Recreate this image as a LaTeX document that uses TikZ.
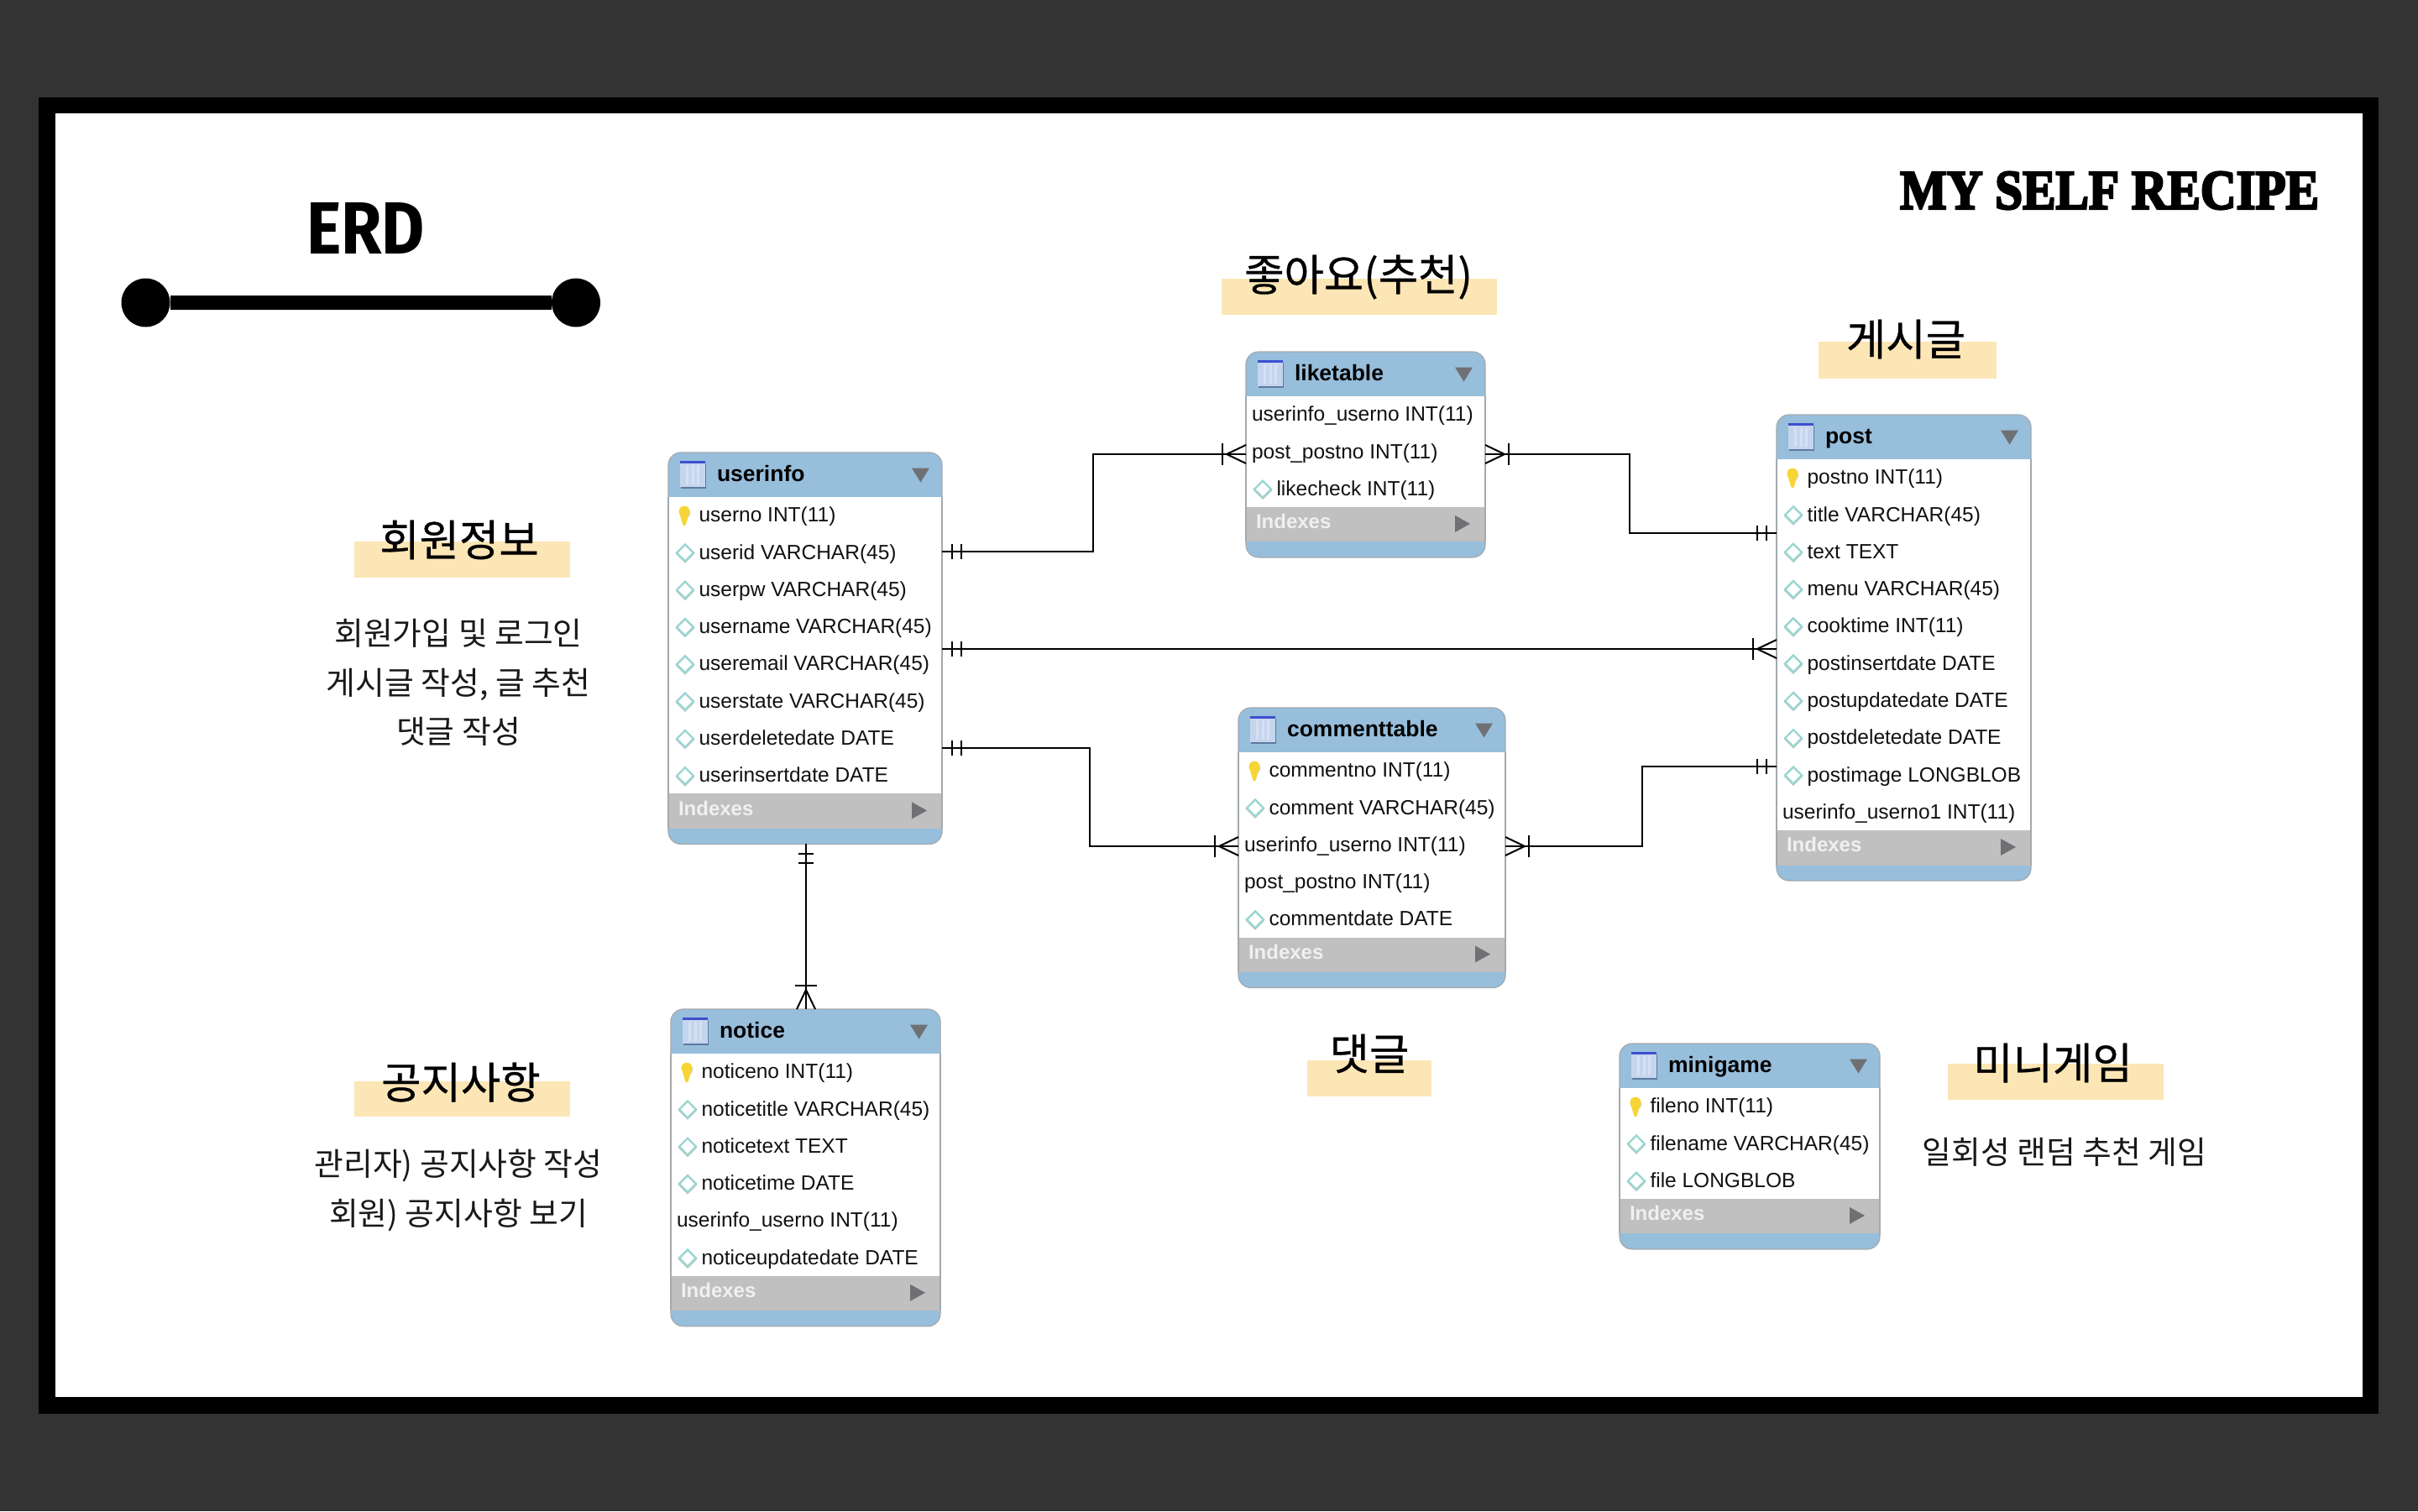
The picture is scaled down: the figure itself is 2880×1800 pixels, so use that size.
\documentclass[tikz,border=0pt]{standalone}
\usepackage{fontspec}
\usepackage{graphicx}
\setmainfont{Liberation Sans}
\newfontfamily\kr{Noto Sans CJK KR}
\newfontfamily\krh[FakeBold=0.6]{Noto Sans CJK KR}
\newfontfamily\erdfont{Fira Sans}
\newfontfamily\stencilfont[FakeBold=4]{Liberation Serif}
\definecolor{slate}{HTML}{333333}
\definecolor{hdrblue}{HTML}{97BEDB}
\definecolor{idxgray}{HTML}{C0C0C0}
\definecolor{edgegray}{HTML}{A3A9AE}
\definecolor{tri}{HTML}{6F7073}
\definecolor{hl}{HTML}{FCE6B5}
\definecolor{keyy}{HTML}{F6D535}
\definecolor{dia}{HTML}{9AD6D0}
\definecolor{rowtext}{HTML}{111111}
\definecolor{iconbody}{HTML}{C6D5EE}
\definecolor{iconstripe}{HTML}{D6E0F3}
\definecolor{iconbar}{HTML}{3D4FD0}
\definecolor{iconshade}{HTML}{5E7A9E}
\tikzset{
  every node/.style={inner sep=0pt,outer sep=0pt},
  tbl/.style={draw=edgegray,line width=1.2pt,fill=hdrblue,rounded corners=15pt,rectangle},
  rowt/.style={anchor=west,font=\fontsize{24.5}{28}\selectfont,text=rowtext},
  titlet/.style={anchor=west,font=\fontsize{26.5}{30}\bfseries\selectfont,text=black},
  idxt/.style={anchor=west,font=\fontsize{24}{28}\bfseries\selectfont,text=white!94!black},
  conn/.style={line width=2pt,draw=black},
  hlbar/.style={fill=hl,rectangle},
  headt/.style={font=\krh\fontsize{51.5}{56}\selectfont,text=black},
  bodyt/.style={font=\kr\fontsize{37.8}{44}\selectfont,text=black!90},
  enddot/.style={circle,fill=black,minimum size=58pt},
  erone/.pic={
    \draw[conn] (12pt,-9pt) -- (12pt,9pt);
    \draw[conn] (23pt,-9pt) -- (23pt,9pt);
  },
  ermany/.pic={
    \draw[conn] (28pt,-13pt) -- (28pt,13pt);
    \draw[conn] (0pt,-11pt) -- (23pt,0pt) -- (0pt,11pt);
  },
  erkey/.pic={
    \fill[black!15] (1.5pt,3pt) circle (6pt);
    \fill[keyy] (0pt,5pt) circle (6.5pt);
    \fill[keyy] (-6pt,4pt) -- (-2pt,-10pt) arc (180:360:2pt) -- (6pt,4pt) -- cycle;
  },
  erdiamond/.pic={
    \fill[black!22] (11pt,-1.5pt) -- (0pt,9.5pt) -- (-11pt,-1.5pt) -- (0pt,-12.5pt) -- cycle;
    \draw[dia,fill=white,line width=2.4pt] (10pt,0pt) -- (0pt,10pt) -- (-10pt,0pt) -- (0pt,-10pt) -- cycle;
  },
  ericon/.pic={
    \fill[iconshade] (-14pt,-17pt) rectangle (16pt,13pt);
    \fill[iconbody] (-15pt,-15pt) rectangle (15pt,15pt);
    \fill[iconstripe] (-8pt,-12pt) rectangle (-5pt,11pt);
    \fill[iconstripe] (-1.5pt,-12pt) rectangle (1.5pt,11pt);
    \fill[iconstripe] (5pt,-12pt) rectangle (8pt,11pt);
    \fill[iconbar] (-15pt,13pt) rectangle (15pt,16.5pt);
  },
  trid/.pic={\fill[tri] (-10.5pt,8.5pt) -- (10.5pt,8.5pt) -- (0pt,-8.5pt) -- cycle;},
  trir/.pic={\fill[tri] (-9pt,10pt) -- (9pt,0pt) -- (-9pt,-10pt) -- cycle;},
}
% id, left, right, top, title, rows
\newcommand{\ertable}[6]{%
  \foreach \rr/\ss [count=\cc] in {#6}{\xdef\ncount{\cc}}%
  \pgfmathsetmacro{\rowsh}{\ncount*44.3}%
  \pgfmathsetmacro{\hgt}{53+\rowsh+59}%
  \pgfmathsetmacro{\wid}{#3-#2}%
  \pgfmathsetmacro{\xmid}{(#2+#3)/2}%
  \pgfmathsetmacro{\ymid}{#4+\hgt/2}%
  \pgfmathsetmacro{\rowtop}{#4+53}%
  \pgfmathsetmacro{\idxtop}{\rowtop+\rowsh-1}%
  \pgfmathsetmacro{\idxbot}{\idxtop+41.5}%
  \pgfmathsetmacro{\idxmid}{\idxtop+20}%
  \node[tbl,minimum width=\wid pt,minimum height=\hgt pt] (#1) at (\xmid,\ymid) {};
  \fill[white] (#2,\rowtop) rectangle (#3,\idxtop);
  \fill[idxgray] (#2,\idxtop) rectangle (#3,\idxbot);
  \draw[edgegray,line width=1.2pt] (#2,\rowtop) -- (#2,\idxbot) (#3,\rowtop) -- (#3,\idxbot);
  \pic at (#2+29,#4+26) {ericon};
  \pic at (#3-25.5,#4+27) {trid};
  \node[titlet] (#1-title) at (#2+58,#4+28) {\strut #5};
  \foreach \rr/\ss [count=\ii] in {#6}{
    \pgfmathsetmacro{\ry}{\rowtop+(\ii-0.5)*44.3}
    \pgfmathsetmacro{\ty}{\ry+2}
    \if k\rr
      \pic at (#2+19,\ry) {erkey};
      \node[rowt] (#1-r\ii) at (#2+36.5,\ty) {\strut \ss};
    \else\if d\rr
      \pic at (#2+20,\ry) {erdiamond};
      \node[rowt] (#1-r\ii) at (#2+36.5,\ty) {\strut \ss};
    \else
      \node[rowt] (#1-r\ii) at (#2+7,\ty) {\strut \ss};
    \fi\fi
  }
  \node[idxt] (#1-idx) at (#2+12,\idxmid) {\strut Indexes};
  \pic at (#3-27,\idxmid) {trir};
}
\begin{document}
\begin{tikzpicture}[x=1pt,y=-1pt]
\useasboundingbox (0,0) rectangle (2880,1800);
\fill[slate] (0,0) rectangle (2880,1800);
\fill[black] (46,116) rectangle (2833,1684);
\fill[white] (65.5,135) rectangle (2814,1664);

% Title block
\node[font=\erdfont\bfseries\fontsize{85}{90}\selectfont] (erd) at (435.5,271.5) {\resizebox{141pt}{61pt}{ERD}};
\node[enddot] (dotl) at (173.5,360.5) {};
\node[enddot] (dotr) at (686,360.5) {};
\draw[line width=17pt] (dotl) -- (dotr);
\node (brand) at (2512.5,227) {\resizebox{499pt}{44pt}{\stencilfont\bfseries MY SELF RECIPE}};

% Headings with highlight bars
\node[hlbar,minimum width=257pt,minimum height=43pt] (hlA) at (550,666.5) {};
\node[headt] (headA) at (547,643) {회원정보};
\node[hlbar,minimum width=257pt,minimum height=42pt] (hlB) at (550,1309) {};
\node[headt] (headB) at (549,1289) {공지사항};
\node[hlbar,minimum width=328pt,minimum height=43pt] (hlC) at (1619,353.5) {};
\node[headt] (headC) at (1618,330) {좋아요(추천)};
\node[hlbar,minimum width=212pt,minimum height=44pt] (hlD) at (2272,429) {};
\node[headt] (headD) at (2270,404) {게시글};
\node[hlbar,minimum width=148pt,minimum height=43pt] (hlE) at (1631,1284.5) {};
\node[headt] (headE) at (1631,1255) {댓글};
\node[hlbar,minimum width=257pt,minimum height=43pt] (hlF) at (2448.5,1288.5) {};
\node[headt] (headF) at (2445,1266) {미니게임};

% Descriptions
\node[bodyt] (d1) at (546,754) {회원가입 및 로그인};
\node[bodyt] (d2) at (546,815) {게시글 작성, 글 추천};
\node[bodyt] (d3) at (546,871) {댓글 작성};
\node[bodyt] (d4) at (546,1388) {관리자) 공지사항 작성};
\node[bodyt] (d5) at (546,1447) {회원) 공지사항 보기};
\node[bodyt] (d6) at (2459,1372) {일회성 랜덤 추천 게임};

% Tables
\ertable{userinfo}{796}{1122}{539}{userinfo}{k/userno INT(11),d/userid VARCHAR(45),d/userpw VARCHAR(45),d/username VARCHAR(45),d/useremail VARCHAR(45),d/userstate VARCHAR(45),d/userdeletedate DATE,d/userinsertdate DATE}
\ertable{liketable}{1484}{1769}{419}{liketable}{n/userinfo\_userno INT(11),n/post\_postno INT(11),d/likecheck INT(11)}
\ertable{post}{2116}{2419}{494}{post}{k/postno INT(11),d/title VARCHAR(45),d/text TEXT,d/menu VARCHAR(45),d/cooktime INT(11),d/postinsertdate DATE,d/postupdatedate DATE,d/postdeletedate DATE,d/postimage LONGBLOB,n/userinfo\_userno1 INT(11)}
\ertable{commenttable}{1475}{1793}{843}{commenttable}{k/commentno INT(11),d/comment VARCHAR(45),n/userinfo\_userno INT(11),n/post\_postno INT(11),d/commentdate DATE}
\ertable{notice}{799}{1120}{1202}{notice}{k/noticeno INT(11),d/noticetitle VARCHAR(45),d/noticetext TEXT,d/noticetime DATE,n/userinfo\_userno INT(11),d/noticeupdatedate DATE}
\ertable{minigame}{1929}{2239}{1243}{minigame}{k/fileno INT(11),d/filename VARCHAR(45),d/file LONGBLOB}

% Connector routing points
\coordinate (ua) at (1302,657);
\coordinate (ub) at (1302,541);
\coordinate (lb) at (1941,541);
\coordinate (lc) at (1941,635);
\coordinate (pm) at (1500,773);
\coordinate (ca) at (1298,891);
\coordinate (cb) at (1298,1008);
\coordinate (da) at (1956,1008);
\coordinate (db) at (1956,913);
\coordinate (na) at (960,1100);

% Connectors
\draw[conn] (userinfo.east |- ua) -- (ua) -- (ub) -- (liketable.west |- ub);
\pic at (userinfo.east |- ua) {erone};
\pic[rotate=180] at (liketable.west |- ub) {ermany};

\draw[conn] (liketable.east |- lb) -- (lb) -- (lc) -- (post.west |- lc);
\pic at (liketable.east |- lb) {ermany};
\pic[rotate=180] at (post.west |- lc) {erone};

\draw[conn] (userinfo.east |- pm) -- (post.west |- pm);
\pic at (userinfo.east |- pm) {erone};
\pic[rotate=180] at (post.west |- pm) {ermany};

\draw[conn] (userinfo.east |- ca) -- (ca) -- (cb) -- (commenttable.west |- cb);
\pic at (userinfo.east |- ca) {erone};
\pic[rotate=180] at (commenttable.west |- cb) {ermany};

\draw[conn] (commenttable.east |- da) -- (da) -- (db) -- (post.west |- db);
\pic at (commenttable.east |- da) {ermany};
\pic[rotate=180] at (post.west |- db) {erone};

\draw[conn] (na |- userinfo.south) -- (na |- notice.north);
\pic[rotate=-90] at (na |- userinfo.south) {erone};
\pic[rotate=90] at (na |- notice.north) {ermany};
\end{tikzpicture}
\end{document}
